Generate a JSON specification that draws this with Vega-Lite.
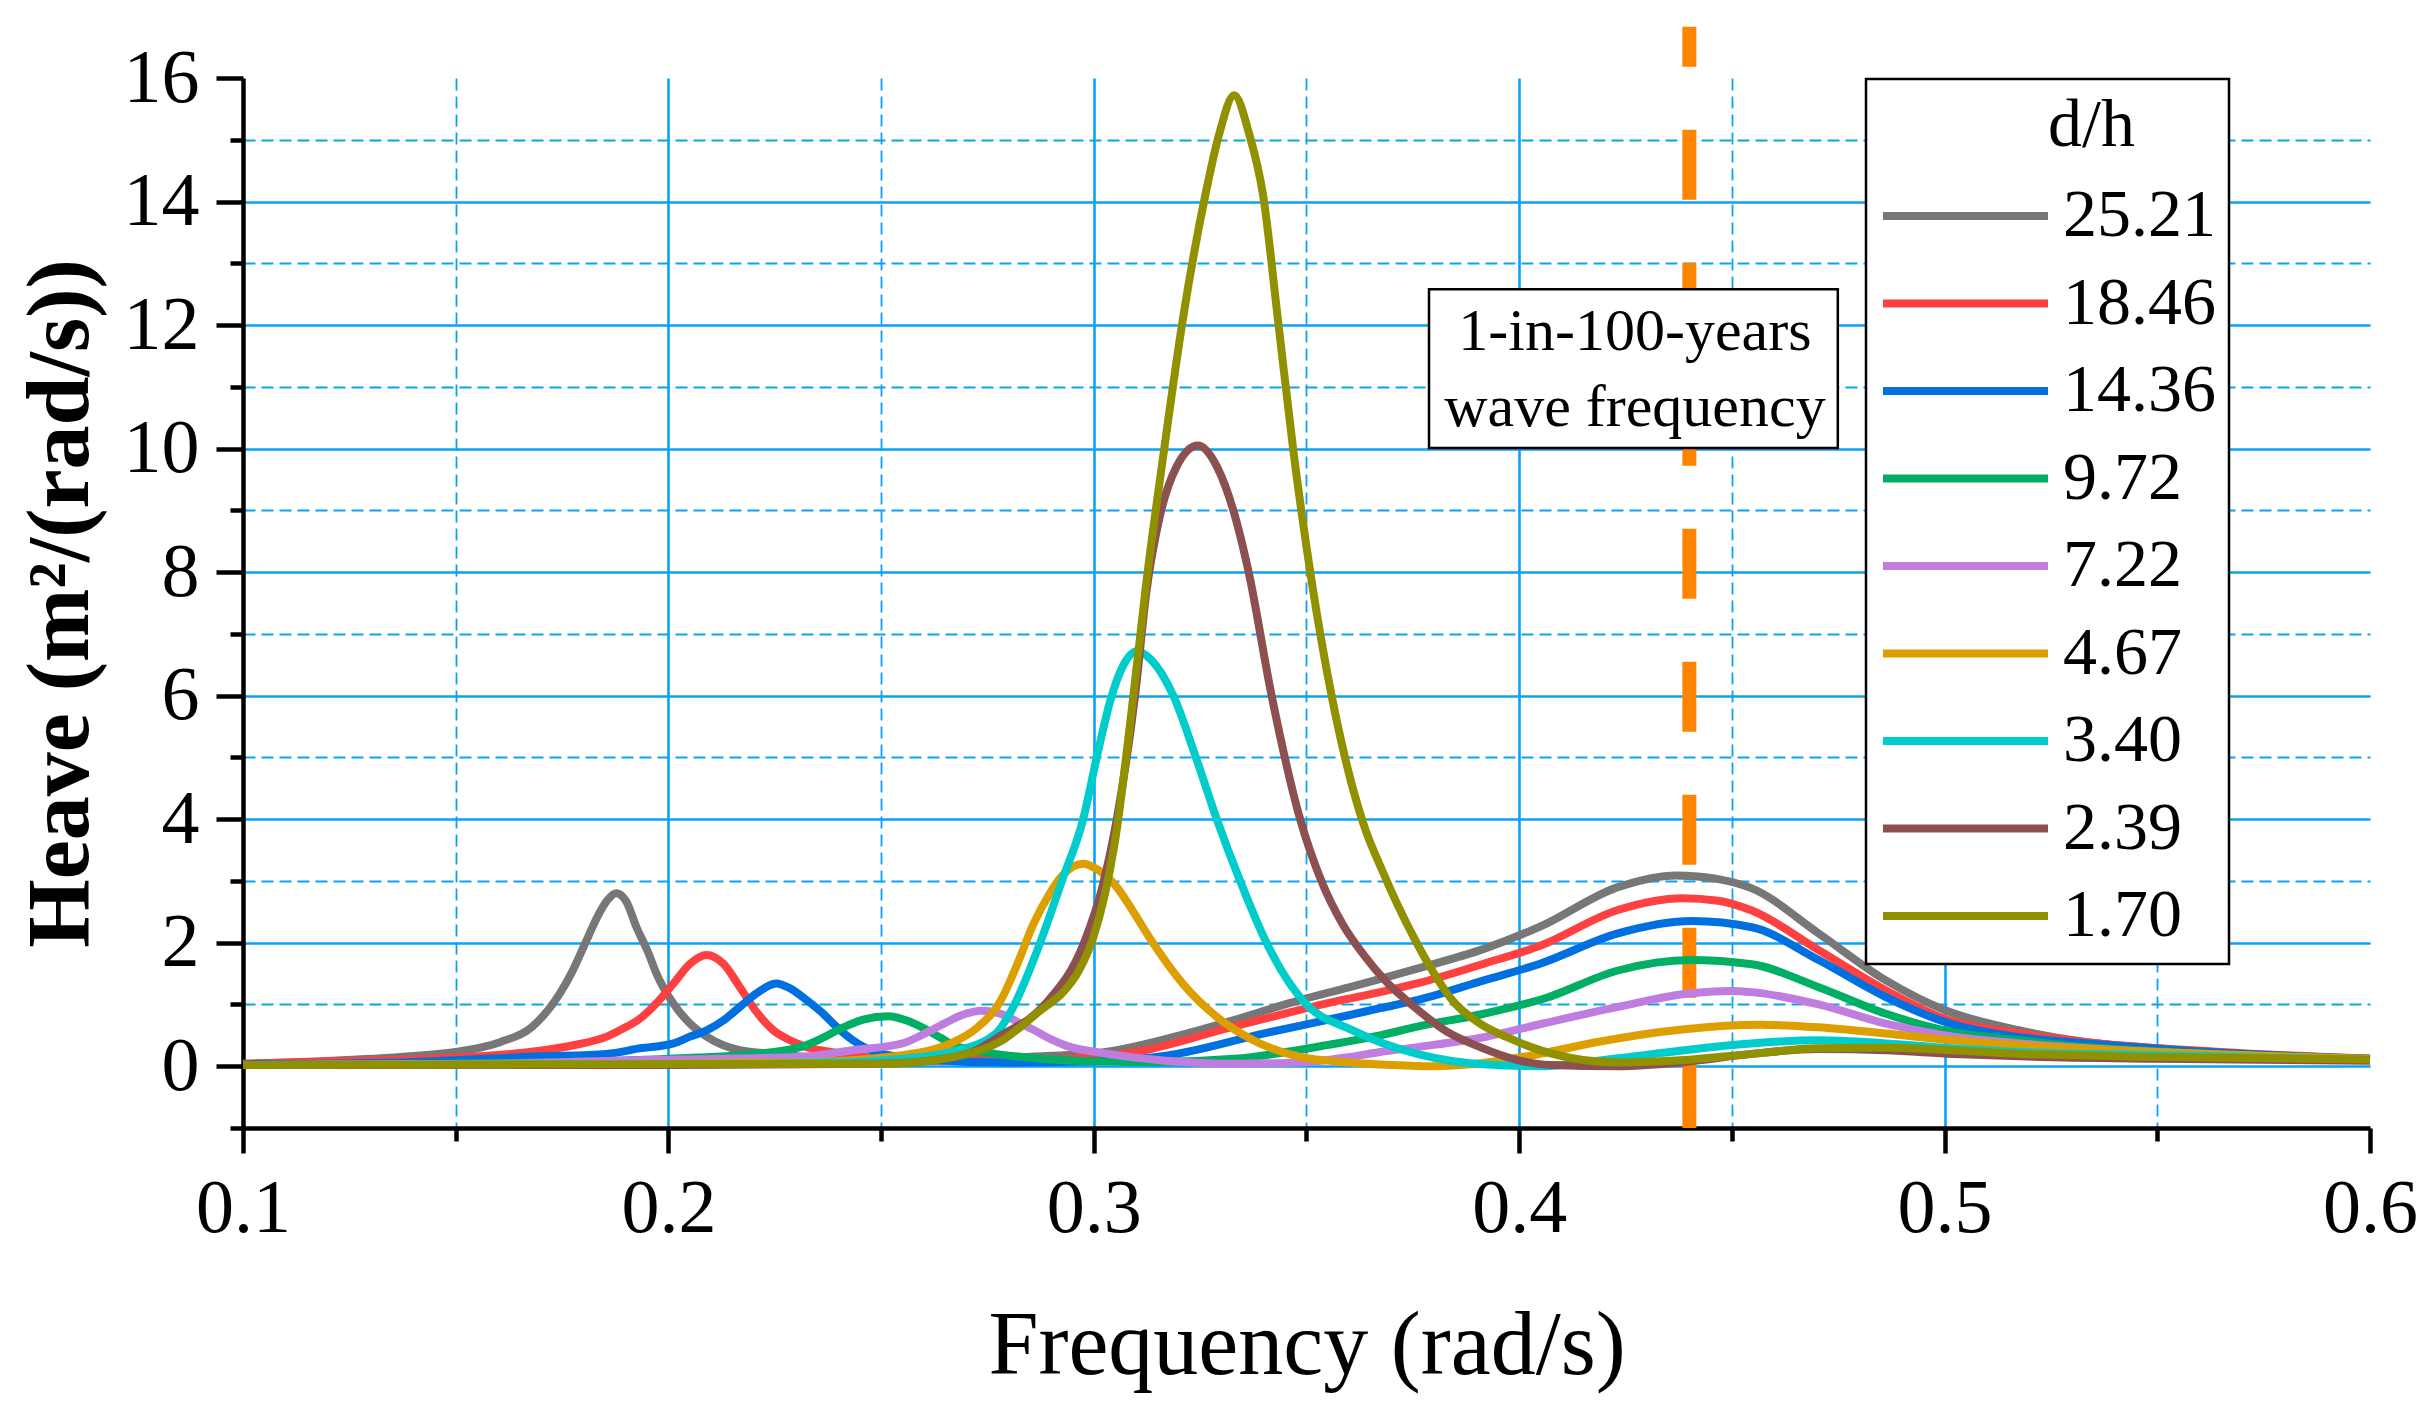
{
  "$schema": "https://vega.github.io/schema/vega-lite/v6.json",
  "width": 2127,
  "height": 1050,
  "autosize": "none",
  "padding": {"left": 243, "top": 78, "right": 62, "bottom": 282},
  "background": "white",
  "config": {
    "view": {"stroke": null},
    "axis": {
      "labelFont": "Liberation Serif",
      "titleFont": "Liberation Serif",
      "labelColor": "black",
      "titleColor": "black",
      "domainColor": "black",
      "tickColor": "black"
    }
  },
  "datasets": {
    "curves": [
      {"s": "25.21", "f": 0.10, "v": 0.04}, {"s": "25.21", "f": 0.121, "v": 0.09}, {"s": "25.21", "f": 0.137, "v": 0.15},
      {"s": "25.21", "f": 0.15, "v": 0.23}, {"s": "25.21", "f": 0.1604, "v": 0.39}, {"s": "25.21", "f": 0.168, "v": 0.64},
      {"s": "25.21", "f": 0.1745, "v": 1.18}, {"s": "25.21", "f": 0.1773, "v": 1.52}, {"s": "25.21", "f": 0.1805, "v": 2.00},
      {"s": "25.21", "f": 0.1833, "v": 2.42}, {"s": "25.21", "f": 0.1858, "v": 2.70}, {"s": "25.21", "f": 0.1877, "v": 2.80},
      {"s": "25.21", "f": 0.190, "v": 2.68}, {"s": "25.21", "f": 0.1925, "v": 2.25}, {"s": "25.21", "f": 0.1952, "v": 1.85},
      {"s": "25.21", "f": 0.1972, "v": 1.50}, {"s": "25.21", "f": 0.2012, "v": 1.01}, {"s": "25.21", "f": 0.2051, "v": 0.69},
      {"s": "25.21", "f": 0.209, "v": 0.48}, {"s": "25.21", "f": 0.2129, "v": 0.34}, {"s": "25.21", "f": 0.2168, "v": 0.26},
      {"s": "25.21", "f": 0.2247, "v": 0.20}, {"s": "25.21", "f": 0.235, "v": 0.14}, {"s": "25.21", "f": 0.25, "v": 0.10},
      {"s": "25.21", "f": 0.27, "v": 0.12}, {"s": "25.21", "f": 0.29, "v": 0.17}, {"s": "25.21", "f": 0.3015, "v": 0.22},
      {"s": "25.21", "f": 0.325, "v": 0.59}, {"s": "25.21", "f": 0.3485, "v": 1.07}, {"s": "25.21", "f": 0.3602, "v": 1.28},
      {"s": "25.21", "f": 0.376, "v": 1.58}, {"s": "25.21", "f": 0.3917, "v": 1.90}, {"s": "25.21", "f": 0.4049, "v": 2.26},
      {"s": "25.21", "f": 0.4232, "v": 2.90}, {"s": "25.21", "f": 0.437, "v": 3.09}, {"s": "25.21", "f": 0.4468, "v": 3.03},
      {"s": "25.21", "f": 0.4547, "v": 2.88}, {"s": "25.21", "f": 0.4704, "v": 2.15}, {"s": "25.21", "f": 0.4862, "v": 1.39},
      {"s": "25.21", "f": 0.50, "v": 0.91}, {"s": "25.21", "f": 0.5177, "v": 0.58}, {"s": "25.21", "f": 0.5334, "v": 0.39},
      {"s": "25.21", "f": 0.55, "v": 0.29}, {"s": "25.21", "f": 0.5649, "v": 0.20}, {"s": "25.21", "f": 0.60, "v": 0.12},

      {"s": "18.46", "f": 0.10, "v": 0.04}, {"s": "18.46", "f": 0.121, "v": 0.08}, {"s": "18.46", "f": 0.15, "v": 0.14},
      {"s": "18.46", "f": 0.1698, "v": 0.25}, {"s": "18.46", "f": 0.1777, "v": 0.34}, {"s": "18.46", "f": 0.1855, "v": 0.48},
      {"s": "18.46", "f": 0.1894, "v": 0.61}, {"s": "18.46", "f": 0.1933, "v": 0.77}, {"s": "18.46", "f": 0.1972, "v": 1.02},
      {"s": "18.46", "f": 0.2012, "v": 1.34}, {"s": "18.46", "f": 0.2051, "v": 1.66}, {"s": "18.46", "f": 0.209, "v": 1.80},
      {"s": "18.46", "f": 0.2129, "v": 1.66}, {"s": "18.46", "f": 0.2168, "v": 1.28}, {"s": "18.46", "f": 0.2207, "v": 0.88},
      {"s": "18.46", "f": 0.2247, "v": 0.58}, {"s": "18.46", "f": 0.2286, "v": 0.42}, {"s": "18.46", "f": 0.2325, "v": 0.31},
      {"s": "18.46", "f": 0.2403, "v": 0.21}, {"s": "18.46", "f": 0.25, "v": 0.12}, {"s": "18.46", "f": 0.26, "v": 0.09},
      {"s": "18.46", "f": 0.28, "v": 0.08}, {"s": "18.46", "f": 0.30, "v": 0.15}, {"s": "18.46", "f": 0.309, "v": 0.22},
      {"s": "18.46", "f": 0.3328, "v": 0.64}, {"s": "18.46", "f": 0.3582, "v": 1.07}, {"s": "18.46", "f": 0.3673, "v": 1.20},
      {"s": "18.46", "f": 0.376, "v": 1.34}, {"s": "18.46", "f": 0.3917, "v": 1.66}, {"s": "18.46", "f": 0.4049, "v": 1.95},
      {"s": "18.46", "f": 0.4232, "v": 2.53}, {"s": "18.46", "f": 0.4383, "v": 2.72}, {"s": "18.46", "f": 0.4468, "v": 2.68},
      {"s": "18.46", "f": 0.4547, "v": 2.52}, {"s": "18.46", "f": 0.4704, "v": 1.88}, {"s": "18.46", "f": 0.4862, "v": 1.23},
      {"s": "18.46", "f": 0.50, "v": 0.77}, {"s": "18.46", "f": 0.5177, "v": 0.53}, {"s": "18.46", "f": 0.5334, "v": 0.39},
      {"s": "18.46", "f": 0.5649, "v": 0.23}, {"s": "18.46", "f": 0.60, "v": 0.12},

      {"s": "14.36", "f": 0.10, "v": 0.03}, {"s": "14.36", "f": 0.14, "v": 0.07}, {"s": "14.36", "f": 0.1698, "v": 0.16},
      {"s": "14.36", "f": 0.1855, "v": 0.20}, {"s": "14.36", "f": 0.1933, "v": 0.29}, {"s": "14.36", "f": 0.2012, "v": 0.37},
      {"s": "14.36", "f": 0.2051, "v": 0.48}, {"s": "14.36", "f": 0.209, "v": 0.58}, {"s": "14.36", "f": 0.2129, "v": 0.74},
      {"s": "14.36", "f": 0.2168, "v": 0.96}, {"s": "14.36", "f": 0.2207, "v": 1.18}, {"s": "14.36", "f": 0.2254, "v": 1.34},
      {"s": "14.36", "f": 0.2286, "v": 1.26}, {"s": "14.36", "f": 0.2325, "v": 1.07}, {"s": "14.36", "f": 0.2364, "v": 0.85},
      {"s": "14.36", "f": 0.2395, "v": 0.64}, {"s": "14.36", "f": 0.2432, "v": 0.43}, {"s": "14.36", "f": 0.2492, "v": 0.22},
      {"s": "14.36", "f": 0.26, "v": 0.11}, {"s": "14.36", "f": 0.28, "v": 0.06}, {"s": "14.36", "f": 0.30, "v": 0.08},
      {"s": "14.36", "f": 0.317, "v": 0.17}, {"s": "14.36", "f": 0.3406, "v": 0.54}, {"s": "14.36", "f": 0.3602, "v": 0.83},
      {"s": "14.36", "f": 0.3673, "v": 0.94}, {"s": "14.36", "f": 0.376, "v": 1.07}, {"s": "14.36", "f": 0.3917, "v": 1.39},
      {"s": "14.36", "f": 0.4049, "v": 1.66}, {"s": "14.36", "f": 0.4232, "v": 2.15}, {"s": "14.36", "f": 0.4406, "v": 2.35},
      {"s": "14.36", "f": 0.4547, "v": 2.25}, {"s": "14.36", "f": 0.4704, "v": 1.72}, {"s": "14.36", "f": 0.4862, "v": 1.12},
      {"s": "14.36", "f": 0.50, "v": 0.72}, {"s": "14.36", "f": 0.5177, "v": 0.47}, {"s": "14.36", "f": 0.5334, "v": 0.37},
      {"s": "14.36", "f": 0.5649, "v": 0.22}, {"s": "14.36", "f": 0.60, "v": 0.12},

      {"s": "9.72", "f": 0.10, "v": 0.02}, {"s": "9.72", "f": 0.15, "v": 0.04}, {"s": "9.72", "f": 0.207, "v": 0.14},
      {"s": "9.72", "f": 0.219, "v": 0.19}, {"s": "9.72", "f": 0.231, "v": 0.31}, {"s": "9.72", "f": 0.236, "v": 0.45},
      {"s": "9.72", "f": 0.2408, "v": 0.62}, {"s": "9.72", "f": 0.246, "v": 0.76}, {"s": "9.72", "f": 0.2516, "v": 0.81},
      {"s": "9.72", "f": 0.2565, "v": 0.73}, {"s": "9.72", "f": 0.261, "v": 0.58}, {"s": "9.72", "f": 0.264, "v": 0.46},
      {"s": "9.72", "f": 0.267, "v": 0.34}, {"s": "9.72", "f": 0.2718, "v": 0.26}, {"s": "9.72", "f": 0.2768, "v": 0.20},
      {"s": "9.72", "f": 0.2864, "v": 0.13}, {"s": "9.72", "f": 0.30, "v": 0.08}, {"s": "9.72", "f": 0.315, "v": 0.07},
      {"s": "9.72", "f": 0.333, "v": 0.12}, {"s": "9.72", "f": 0.3563, "v": 0.36}, {"s": "9.72", "f": 0.3673, "v": 0.50},
      {"s": "9.72", "f": 0.376, "v": 0.64}, {"s": "9.72", "f": 0.3917, "v": 0.85}, {"s": "9.72", "f": 0.4061, "v": 1.10},
      {"s": "9.72", "f": 0.4232, "v": 1.55}, {"s": "9.72", "f": 0.4401, "v": 1.72}, {"s": "9.72", "f": 0.4547, "v": 1.65},
      {"s": "9.72", "f": 0.4704, "v": 1.28}, {"s": "9.72", "f": 0.4862, "v": 0.85}, {"s": "9.72", "f": 0.50, "v": 0.58},
      {"s": "9.72", "f": 0.5177, "v": 0.42}, {"s": "9.72", "f": 0.5334, "v": 0.31}, {"s": "9.72", "f": 0.5649, "v": 0.19},
      {"s": "9.72", "f": 0.60, "v": 0.10},

      {"s": "7.22", "f": 0.10, "v": 0.02}, {"s": "7.22", "f": 0.159, "v": 0.04}, {"s": "7.22", "f": 0.195, "v": 0.10},
      {"s": "7.22", "f": 0.231, "v": 0.15}, {"s": "7.22", "f": 0.2432, "v": 0.26}, {"s": "7.22", "f": 0.255, "v": 0.37},
      {"s": "7.22", "f": 0.260, "v": 0.52}, {"s": "7.22", "f": 0.2648, "v": 0.69}, {"s": "7.22", "f": 0.269, "v": 0.83},
      {"s": "7.22", "f": 0.2737, "v": 0.90}, {"s": "7.22", "f": 0.2785, "v": 0.84}, {"s": "7.22", "f": 0.2828, "v": 0.69},
      {"s": "7.22", "f": 0.2858, "v": 0.59}, {"s": "7.22", "f": 0.2895, "v": 0.45}, {"s": "7.22", "f": 0.2936, "v": 0.33},
      {"s": "7.22", "f": 0.3015, "v": 0.22}, {"s": "7.22", "f": 0.317, "v": 0.09}, {"s": "7.22", "f": 0.3328, "v": 0.04},
      {"s": "7.22", "f": 0.3485, "v": 0.06}, {"s": "7.22", "f": 0.3602, "v": 0.15}, {"s": "7.22", "f": 0.3673, "v": 0.23},
      {"s": "7.22", "f": 0.376, "v": 0.31}, {"s": "7.22", "f": 0.3917, "v": 0.47}, {"s": "7.22", "f": 0.4061, "v": 0.70},
      {"s": "7.22", "f": 0.4232, "v": 0.96}, {"s": "7.22", "f": 0.4389, "v": 1.17}, {"s": "7.22", "f": 0.4496, "v": 1.22},
      {"s": "7.22", "f": 0.4547, "v": 1.20}, {"s": "7.22", "f": 0.4704, "v": 1.00}, {"s": "7.22", "f": 0.4862, "v": 0.69},
      {"s": "7.22", "f": 0.50, "v": 0.50}, {"s": "7.22", "f": 0.5177, "v": 0.37}, {"s": "7.22", "f": 0.5334, "v": 0.29},
      {"s": "7.22", "f": 0.5649, "v": 0.18}, {"s": "7.22", "f": 0.60, "v": 0.10},

      {"s": "4.67", "f": 0.10, "v": 0.02}, {"s": "4.67", "f": 0.18, "v": 0.03}, {"s": "4.67", "f": 0.23, "v": 0.06},
      {"s": "4.67", "f": 0.255, "v": 0.18}, {"s": "4.67", "f": 0.267, "v": 0.39}, {"s": "4.67", "f": 0.2725, "v": 0.62},
      {"s": "4.67", "f": 0.278, "v": 1.05}, {"s": "4.67", "f": 0.282, "v": 1.65}, {"s": "4.67", "f": 0.2858, "v": 2.30},
      {"s": "4.67", "f": 0.2895, "v": 2.78}, {"s": "4.67", "f": 0.2925, "v": 3.08}, {"s": "4.67", "f": 0.295, "v": 3.23},
      {"s": "4.67", "f": 0.2975, "v": 3.28}, {"s": "4.67", "f": 0.3005, "v": 3.20}, {"s": "4.67", "f": 0.3054, "v": 2.90},
      {"s": "4.67", "f": 0.3093, "v": 2.50}, {"s": "4.67", "f": 0.3132, "v": 2.07}, {"s": "4.67", "f": 0.321, "v": 1.33},
      {"s": "4.67", "f": 0.3289, "v": 0.80}, {"s": "4.67", "f": 0.3367, "v": 0.45}, {"s": "4.67", "f": 0.3485, "v": 0.15},
      {"s": "4.67", "f": 0.3602, "v": 0.06}, {"s": "4.67", "f": 0.37, "v": 0.02}, {"s": "4.67", "f": 0.38, "v": 0.00},
      {"s": "4.67", "f": 0.39, "v": 0.04}, {"s": "4.67", "f": 0.4049, "v": 0.20}, {"s": "4.67", "f": 0.4174, "v": 0.38},
      {"s": "4.67", "f": 0.4389, "v": 0.60}, {"s": "4.67", "f": 0.4566, "v": 0.67}, {"s": "4.67", "f": 0.4704, "v": 0.63},
      {"s": "4.67", "f": 0.4862, "v": 0.53}, {"s": "4.67", "f": 0.5019, "v": 0.42}, {"s": "4.67", "f": 0.5177, "v": 0.34},
      {"s": "4.67", "f": 0.55, "v": 0.23}, {"s": "4.67", "f": 0.60, "v": 0.12},

      {"s": "3.40", "f": 0.10, "v": 0.02}, {"s": "3.40", "f": 0.20, "v": 0.03}, {"s": "3.40", "f": 0.24, "v": 0.06},
      {"s": "3.40", "f": 0.255, "v": 0.12}, {"s": "3.40", "f": 0.267, "v": 0.24}, {"s": "3.40", "f": 0.277, "v": 0.53},
      {"s": "3.40", "f": 0.281, "v": 0.95}, {"s": "3.40", "f": 0.2874, "v": 2.00}, {"s": "3.40", "f": 0.2925, "v": 3.00},
      {"s": "3.40", "f": 0.2975, "v": 4.00}, {"s": "3.40", "f": 0.3007, "v": 5.00}, {"s": "3.40", "f": 0.3038, "v": 5.90},
      {"s": "3.40", "f": 0.307, "v": 6.50}, {"s": "3.40", "f": 0.3101, "v": 6.72}, {"s": "3.40", "f": 0.3135, "v": 6.58},
      {"s": "3.40", "f": 0.3187, "v": 6.00}, {"s": "3.40", "f": 0.324, "v": 5.00}, {"s": "3.40", "f": 0.3289, "v": 4.00},
      {"s": "3.40", "f": 0.3344, "v": 3.00}, {"s": "3.40", "f": 0.3406, "v": 2.00}, {"s": "3.40", "f": 0.345, "v": 1.45},
      {"s": "3.40", "f": 0.35, "v": 1.00}, {"s": "3.40", "f": 0.3602, "v": 0.60}, {"s": "3.40", "f": 0.3673, "v": 0.39},
      {"s": "3.40", "f": 0.376, "v": 0.20}, {"s": "3.40", "f": 0.3917, "v": 0.03}, {"s": "3.40", "f": 0.4049, "v": 0.00},
      {"s": "3.40", "f": 0.4232, "v": 0.13}, {"s": "3.40", "f": 0.4389, "v": 0.26}, {"s": "3.40", "f": 0.4566, "v": 0.38},
      {"s": "3.40", "f": 0.4704, "v": 0.42}, {"s": "3.40", "f": 0.4862, "v": 0.37}, {"s": "3.40", "f": 0.5019, "v": 0.29},
      {"s": "3.40", "f": 0.5177, "v": 0.23}, {"s": "3.40", "f": 0.55, "v": 0.18}, {"s": "3.40", "f": 0.60, "v": 0.10},

      {"s": "2.39", "f": 0.10, "v": 0.02}, {"s": "2.39", "f": 0.20, "v": 0.02}, {"s": "2.39", "f": 0.25, "v": 0.04},
      {"s": "2.39", "f": 0.265, "v": 0.12}, {"s": "2.39", "f": 0.272, "v": 0.25}, {"s": "2.39", "f": 0.278, "v": 0.49},
      {"s": "2.39", "f": 0.2885, "v": 1.00}, {"s": "2.39", "f": 0.2977, "v": 2.00}, {"s": "2.39", "f": 0.302, "v": 2.90},
      {"s": "2.39", "f": 0.3054, "v": 4.00}, {"s": "2.39", "f": 0.3097, "v": 6.00}, {"s": "2.39", "f": 0.3124, "v": 7.70},
      {"s": "2.39", "f": 0.3155, "v": 8.90}, {"s": "2.39", "f": 0.3194, "v": 9.70}, {"s": "2.39", "f": 0.3245, "v": 10.05},
      {"s": "2.39", "f": 0.329, "v": 9.70}, {"s": "2.39", "f": 0.3328, "v": 9.00}, {"s": "2.39", "f": 0.3364, "v": 8.00},
      {"s": "2.39", "f": 0.3418, "v": 6.00}, {"s": "2.39", "f": 0.3485, "v": 4.00}, {"s": "2.39", "f": 0.3535, "v": 3.00},
      {"s": "2.39", "f": 0.3585, "v": 2.30}, {"s": "2.39", "f": 0.3635, "v": 1.80}, {"s": "2.39", "f": 0.369, "v": 1.35},
      {"s": "2.39", "f": 0.375, "v": 0.98}, {"s": "2.39", "f": 0.383, "v": 0.56}, {"s": "2.39", "f": 0.3908, "v": 0.31},
      {"s": "2.39", "f": 0.3996, "v": 0.10}, {"s": "2.39", "f": 0.4074, "v": 0.02}, {"s": "2.39", "f": 0.4232, "v": 0.00},
      {"s": "2.39", "f": 0.4389, "v": 0.07}, {"s": "2.39", "f": 0.4547, "v": 0.20}, {"s": "2.39", "f": 0.4704, "v": 0.28},
      {"s": "2.39", "f": 0.4862, "v": 0.26}, {"s": "2.39", "f": 0.5019, "v": 0.20}, {"s": "2.39", "f": 0.5177, "v": 0.16},
      {"s": "2.39", "f": 0.55, "v": 0.12}, {"s": "2.39", "f": 0.60, "v": 0.09},

      {"s": "1.70", "f": 0.10, "v": 0.02}, {"s": "1.70", "f": 0.25, "v": 0.04}, {"s": "1.70", "f": 0.267, "v": 0.15},
      {"s": "1.70", "f": 0.278, "v": 0.40}, {"s": "1.70", "f": 0.2874, "v": 0.90}, {"s": "1.70", "f": 0.2928, "v": 1.20},
      {"s": "1.70", "f": 0.2965, "v": 1.55}, {"s": "1.70", "f": 0.2998, "v": 2.07}, {"s": "1.70", "f": 0.3025, "v": 2.75},
      {"s": "1.70", "f": 0.305, "v": 3.65}, {"s": "1.70", "f": 0.3089, "v": 5.76}, {"s": "1.70", "f": 0.3124, "v": 7.86},
      {"s": "1.70", "f": 0.3165, "v": 9.97}, {"s": "1.70", "f": 0.3209, "v": 12.08}, {"s": "1.70", "f": 0.3265, "v": 14.20},
      {"s": "1.70", "f": 0.3295, "v": 15.10}, {"s": "1.70", "f": 0.333, "v": 15.72}, {"s": "1.70", "f": 0.3365, "v": 15.10},
      {"s": "1.70", "f": 0.3398, "v": 14.10}, {"s": "1.70", "f": 0.3433, "v": 12.08}, {"s": "1.70", "f": 0.3469, "v": 9.97},
      {"s": "1.70", "f": 0.3512, "v": 7.86}, {"s": "1.70", "f": 0.3559, "v": 6.00}, {"s": "1.70", "f": 0.3605, "v": 4.60},
      {"s": "1.70", "f": 0.364, "v": 3.80}, {"s": "1.70", "f": 0.3673, "v": 3.25}, {"s": "1.70", "f": 0.3715, "v": 2.60},
      {"s": "1.70", "f": 0.3755, "v": 2.05}, {"s": "1.70", "f": 0.380, "v": 1.50}, {"s": "1.70", "f": 0.3845, "v": 1.05},
      {"s": "1.70", "f": 0.3908, "v": 0.69}, {"s": "1.70", "f": 0.3978, "v": 0.45}, {"s": "1.70", "f": 0.4049, "v": 0.26},
      {"s": "1.70", "f": 0.415, "v": 0.10}, {"s": "1.70", "f": 0.4232, "v": 0.06}, {"s": "1.70", "f": 0.4389, "v": 0.10},
      {"s": "1.70", "f": 0.4547, "v": 0.20}, {"s": "1.70", "f": 0.4704, "v": 0.29}, {"s": "1.70", "f": 0.4862, "v": 0.30},
      {"s": "1.70", "f": 0.5019, "v": 0.26}, {"s": "1.70", "f": 0.5177, "v": 0.20}, {"s": "1.70", "f": 0.55, "v": 0.15},
      {"s": "1.70", "f": 0.60, "v": 0.11}
    ],
    "marker": [{"f": 0.44, "top": 16.83, "bottom": -1}],
    "box": [{"x1": 0.3788, "x2": 0.4749, "y1": 10.01, "y2": 12.58}],
    "note": [
      {"f": 0.4272, "v": 11.59, "t": "1-in-100-years"},
      {"f": 0.4272, "v": 10.36, "t": "wave  frequency"}
    ]
  },
  "resolve": {"axis": {"x": "independent", "y": "independent"}},
  "layer": [
    {
      "data": {"name": "marker"},
      "mark": {"type": "rule", "color": "#ff8500", "strokeWidth": 14, "strokeDash": [70, 63], "strokeDashOffset": 30},
      "encoding": {
        "x": {
          "field": "f", "type": "quantitative",
          "scale": {"domain": [0.1, 0.6], "nice": false, "zero": false},
          "axis": {
            "orient": "bottom", "values": [0.15, 0.25, 0.35, 0.45, 0.55], "labels": false, "title": null,
            "domain": false, "tickSize": 13, "tickWidth": 4.5,
            "grid": true, "gridColor": "#0aa2f5", "gridDash": [12, 6], "gridWidth": 1.8
          }
        },
        "y": {
          "field": "top", "type": "quantitative",
          "scale": {"domain": [-1, 16], "nice": false, "zero": false},
          "axis": {
            "orient": "left", "values": [-1, 1, 3, 5, 7, 9, 11, 13, 15], "labels": false, "title": null,
            "domain": false, "tickSize": 13, "tickWidth": 4.5,
            "grid": true, "gridColor": "#0aa2f5", "gridDash": [12, 6], "gridWidth": 1.8
          }
        },
        "y2": {"field": "bottom"}
      }
    },
    {
      "data": {"name": "curves"},
      "mark": {"type": "line", "strokeWidth": 8, "interpolate": "monotone"},
      "encoding": {
        "x": {
          "field": "f", "type": "quantitative",
          "scale": {"domain": [0.1, 0.6], "nice": false, "zero": false},
          "axis": {
            "orient": "bottom", "values": [0.1, 0.2, 0.3, 0.4, 0.5, 0.6], "format": ".1f",
            "title": "Frequency (rad/s)", "titleFontSize": 90, "titleFontWeight": "normal", "titlePadding": 56,
            "labelFontSize": 76, "labelPadding": 18, "labelFlush": false,
            "tickSize": 25, "tickWidth": 4.5, "domainWidth": 4.5,
            "grid": true, "gridWidth": 2.6,
            "gridColor": {"condition": {"test": "datum.value < 0.15 || datum.value > 0.55", "value": "transparent"}, "value": "#0aa2f5"}
          }
        },
        "y": {
          "field": "v", "type": "quantitative",
          "scale": {"domain": [-1, 16], "nice": false, "zero": false},
          "axis": {
            "orient": "left", "values": [0, 2, 4, 6, 8, 10, 12, 14, 16], "format": "d",
            "title": "Heave (m²/(rad/s))", "titleFontSize": 88, "titleFontWeight": "bold", "titlePadding": 18,
            "labelFontSize": 76, "labelPadding": 17, "labelFlush": false,
            "tickSize": 27, "tickWidth": 4.5, "domainWidth": 4.5,
            "grid": true, "gridWidth": 2.6,
            "gridColor": {"condition": {"test": "datum.value > 15", "value": "transparent"}, "value": "#0aa2f5"}
          }
        },
        "color": {
          "field": "s", "type": "nominal",
          "scale": {
            "domain": ["25.21", "18.46", "14.36", "9.72", "7.22", "4.67", "3.40", "2.39", "1.70"],
            "range": ["#777777", "#ff4040", "#0070e0", "#00af64", "#c07de0", "#dd9e00", "#00cccc", "#8c5050", "#919100"]
          },
          "legend": {
            "orient": "none", "legendX": 1623, "legendY": 1,
            "title": "d/h", "titleFont": "Liberation Serif", "titleFontSize": 68, "titleFontWeight": "normal",
            "titleColor": "black", "titleAnchor": "middle", "titleAlign": "left", "titlePadding": 21,
            "labelFont": "Liberation Serif", "labelFontSize": 68, "labelColor": "black", "labelOffset": 11, "labelLimit": 0,
            "symbolType": "stroke", "symbolSize": 27225, "symbolStrokeWidth": 8,
            "clipHeight": 70, "rowPadding": 17.5, "padding": 13,
            "strokeColor": "black", "fillColor": "white",
            "encode": {"legend": {"update": {"strokeWidth": {"value": 2.5}}}}
          }
        }
      }
    },
    {
      "data": {"name": "box"},
      "mark": {"type": "rect", "fill": "white", "stroke": "black", "strokeWidth": 2.5},
      "encoding": {
        "x": {"field": "x1", "type": "quantitative", "scale": {"domain": [0.1, 0.6], "nice": false, "zero": false}, "axis": null},
        "x2": {"field": "x2"},
        "y": {"field": "y1", "type": "quantitative", "scale": {"domain": [-1, 16], "nice": false, "zero": false}, "axis": null},
        "y2": {"field": "y2"}
      }
    },
    {
      "data": {"name": "note"},
      "mark": {"type": "text", "font": "Liberation Serif", "fontSize": 60, "color": "black", "baseline": "alphabetic", "align": "center"},
      "encoding": {
        "x": {"field": "f", "type": "quantitative", "scale": {"domain": [0.1, 0.6], "nice": false, "zero": false}, "axis": null},
        "y": {"field": "v", "type": "quantitative", "scale": {"domain": [-1, 16], "nice": false, "zero": false}, "axis": null},
        "text": {"field": "t"}
      }
    }
  ]
}
